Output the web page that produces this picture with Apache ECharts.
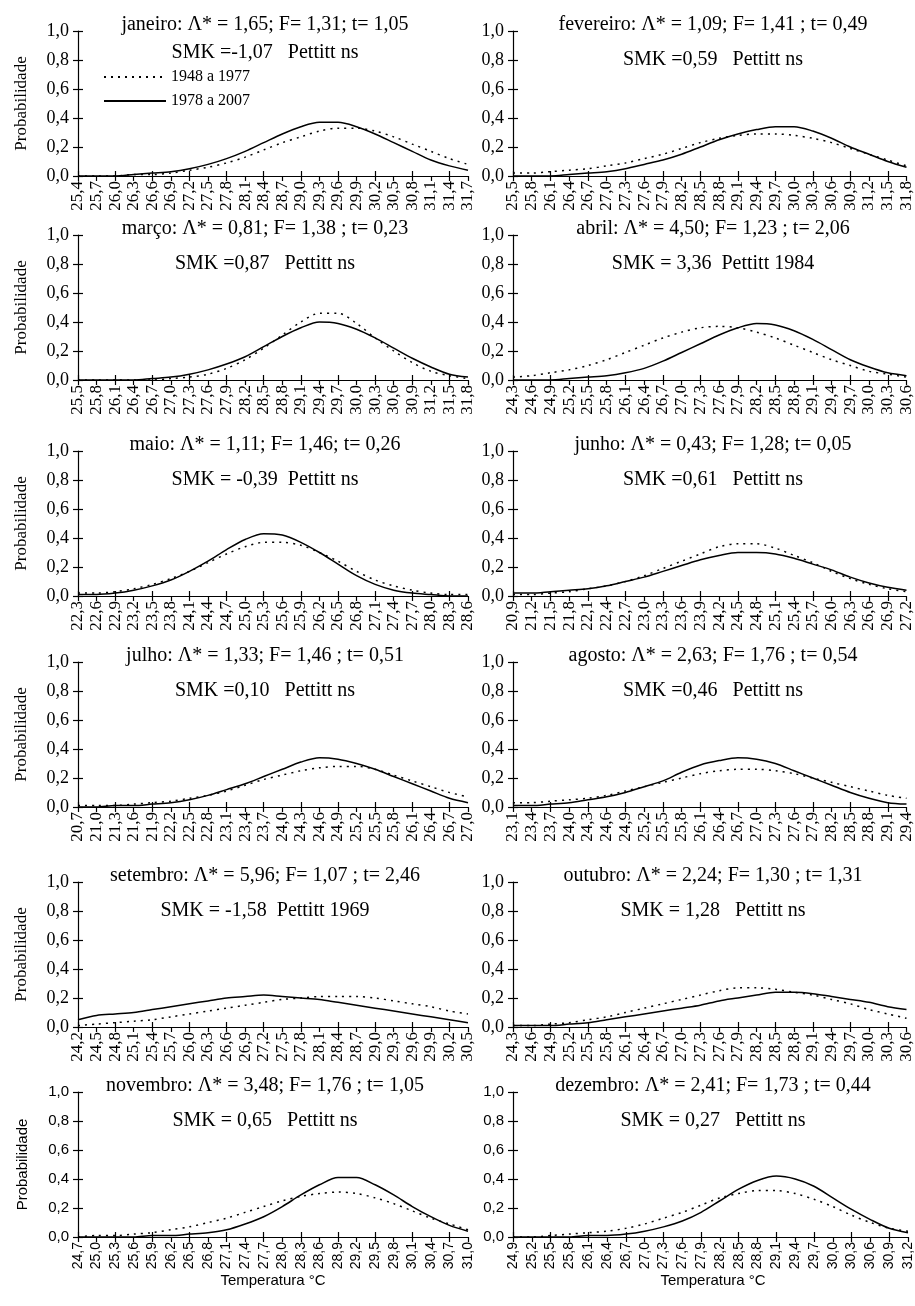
<!DOCTYPE html>
<html>
<head>
<meta charset="utf-8">
<script src="https://cdn.jsdelivr.net/npm/echarts@6/dist/echarts.min.js"></script>
<style>html,body{margin:0;padding:0;background:#fff}#chart{width:915px;height:1306px}</style>
</head>
<body>
<div id="chart"></div>
<script>
// categorias (temperatura, °C)
var catJan = ['25,4','25,7','26,0','26,3','26,6','26,9','27,2','27,5','27,8','28,1','28,4','28,7','29,0','29,3','29,6','29,9','30,2','30,5','30,8','31,1','31,4','31,7'];
var catFev = ['25,5','25,8','26,1','26,4','26,7','27,0','27,3','27,6','27,9','28,2','28,5','28,8','29,1','29,4','29,7','30,0','30,3','30,6','30,9','31,2','31,5','31,8'];
var catMar = ['25,5','25,8','26,1','26,4','26,7','27,0','27,3','27,6','27,9','28,2','28,5','28,8','29,1','29,4','29,7','30,0','30,3','30,6','30,9','31,2','31,5','31,8'];
var catAbr = ['24,3','24,6','24,9','25,2','25,5','25,8','26,1','26,4','26,7','27,0','27,3','27,6','27,9','28,2','28,5','28,8','29,1','29,4','29,7','30,0','30,3','30,6'];
var catMai = ['22,3','22,6','22,9','23,2','23,5','23,8','24,1','24,4','24,7','25,0','25,3','25,6','25,9','26,2','26,5','26,8','27,1','27,4','27,7','28,0','28,3','28,6'];
var catJun = ['20,9','21,2','21,5','21,8','22,1','22,4','22,7','23,0','23,3','23,6','23,9','24,2','24,5','24,8','25,1','25,4','25,7','26,0','26,3','26,6','26,9','27,2'];
var catJul = ['20,7','21,0','21,3','21,6','21,9','22,2','22,5','22,8','23,1','23,4','23,7','24,0','24,3','24,6','24,9','25,2','25,5','25,8','26,1','26,4','26,7','27,0'];
var catAgo = ['23,1','23,4','23,7','24,0','24,3','24,6','24,9','25,2','25,5','25,8','26,1','26,4','26,7','27,0','27,3','27,6','27,9','28,2','28,5','28,8','29,1','29,4'];
var catSet = ['24,2','24,5','24,8','25,1','25,4','25,7','26,0','26,3','26,6','26,9','27,2','27,5','27,8','28,1','28,4','28,7','29,0','29,3','29,6','29,9','30,2','30,5'];
var catOut = ['24,3','24,6','24,9','25,2','25,5','25,8','26,1','26,4','26,7','27,0','27,3','27,6','27,9','28,2','28,5','28,8','29,1','29,4','29,7','30,0','30,3','30,6'];
var catNov = ['24,7','25,0','25,3','25,6','25,9','26,2','26,5','26,8','27,1','27,4','27,7','28,0','28,3','28,6','28,9','29,2','29,5','29,8','30,1','30,4','30,7','31,0'];
var catDez = ['24,9','25,2','25,5','25,8','26,1','26,4','26,7','27,0','27,3','27,6','27,9','28,2','28,5','28,8','29,1','29,4','29,7','30,0','30,3','30,6','30,9','31,2'];

// 1948 a 1977 (pontilhado) e 1978 a 2007 (continuo)
var dotJan = [0.00,0.00,0.00,0.01,0.01,0.02,0.04,0.06,0.09,0.13,0.18,0.23,0.27,0.31,0.33,0.33,0.31,0.27,0.22,0.17,0.12,0.08];
var solJan = [0.00,0.00,0.00,0.01,0.02,0.03,0.05,0.08,0.12,0.17,0.23,0.29,0.34,0.37,0.37,0.34,0.29,0.23,0.17,0.11,0.07,0.04];
var dotFev = [0.02,0.02,0.03,0.04,0.05,0.07,0.09,0.12,0.15,0.19,0.23,0.26,0.28,0.29,0.29,0.28,0.26,0.23,0.19,0.15,0.11,0.07];
var solFev = [0.00,0.00,0.00,0.01,0.02,0.03,0.05,0.08,0.11,0.15,0.20,0.25,0.29,0.32,0.34,0.34,0.31,0.26,0.20,0.15,0.10,0.06];
var dotMar = [0.00,0.00,0.00,0.00,0.00,0.01,0.02,0.04,0.08,0.14,0.22,0.31,0.40,0.46,0.46,0.39,0.29,0.20,0.12,0.06,0.03,0.01];
var solMar = [0.00,0.00,0.00,0.00,0.01,0.02,0.04,0.07,0.11,0.16,0.23,0.30,0.36,0.40,0.39,0.35,0.29,0.22,0.15,0.09,0.04,0.02];
var dotAbr = [0.02,0.03,0.05,0.07,0.10,0.14,0.19,0.24,0.29,0.33,0.36,0.37,0.36,0.33,0.29,0.24,0.19,0.14,0.10,0.06,0.04,0.02];
var solAbr = [0.00,0.00,0.00,0.01,0.02,0.03,0.05,0.08,0.13,0.19,0.25,0.31,0.36,0.39,0.38,0.34,0.28,0.21,0.14,0.09,0.05,0.03];
var dotMai = [0.02,0.02,0.03,0.05,0.08,0.12,0.17,0.23,0.29,0.34,0.37,0.37,0.35,0.30,0.24,0.17,0.11,0.07,0.04,0.02,0.01,0.01];
var solMai = [0.01,0.01,0.02,0.04,0.07,0.11,0.17,0.24,0.32,0.39,0.43,0.42,0.37,0.30,0.22,0.14,0.08,0.04,0.02,0.01,0.00,0.00];
var dotJun = [0.01,0.01,0.02,0.03,0.05,0.07,0.10,0.14,0.19,0.24,0.29,0.34,0.36,0.36,0.33,0.28,0.23,0.17,0.12,0.08,0.05,0.03];
var solJun = [0.02,0.02,0.03,0.04,0.05,0.07,0.10,0.13,0.17,0.21,0.25,0.28,0.30,0.30,0.29,0.26,0.22,0.18,0.13,0.09,0.06,0.04];
var dotJul = [0.01,0.01,0.01,0.02,0.03,0.04,0.06,0.08,0.11,0.15,0.19,0.22,0.25,0.27,0.28,0.28,0.26,0.22,0.18,0.14,0.10,0.07];
var solJul = [0.00,0.00,0.01,0.01,0.02,0.03,0.05,0.08,0.12,0.16,0.21,0.26,0.31,0.34,0.33,0.30,0.26,0.21,0.16,0.11,0.06,0.03];
var dotAgo = [0.03,0.03,0.04,0.05,0.06,0.08,0.11,0.14,0.17,0.20,0.23,0.25,0.26,0.26,0.25,0.23,0.20,0.17,0.14,0.11,0.08,0.06];
var solAgo = [0.01,0.01,0.02,0.03,0.05,0.07,0.10,0.14,0.18,0.24,0.29,0.32,0.34,0.33,0.30,0.25,0.20,0.15,0.10,0.06,0.03,0.02];
var dotSet = [0.01,0.02,0.03,0.04,0.05,0.07,0.09,0.11,0.13,0.15,0.17,0.19,0.20,0.21,0.21,0.21,0.20,0.18,0.16,0.14,0.11,0.09];
var solSet = [0.05,0.08,0.09,0.10,0.12,0.14,0.16,0.18,0.20,0.21,0.22,0.21,0.20,0.19,0.17,0.15,0.13,0.11,0.09,0.07,0.05,0.03];
var dotOut = [0.01,0.01,0.02,0.03,0.05,0.07,0.10,0.13,0.16,0.19,0.22,0.25,0.27,0.27,0.26,0.24,0.22,0.19,0.16,0.12,0.09,0.06];
var solOut = [0.01,0.01,0.01,0.02,0.03,0.05,0.07,0.09,0.11,0.13,0.15,0.18,0.20,0.22,0.24,0.24,0.23,0.21,0.19,0.17,0.14,0.12];
var dotNov = [0.00,0.01,0.01,0.02,0.03,0.05,0.07,0.10,0.13,0.17,0.21,0.25,0.28,0.30,0.31,0.30,0.27,0.23,0.18,0.13,0.09,0.05];
var solNov = [0.00,0.00,0.00,0.00,0.01,0.01,0.02,0.03,0.05,0.09,0.14,0.21,0.29,0.36,0.41,0.41,0.36,0.29,0.21,0.14,0.08,0.04];
var dotDez = [0.00,0.00,0.01,0.02,0.03,0.04,0.06,0.09,0.13,0.17,0.22,0.27,0.30,0.32,0.32,0.30,0.26,0.21,0.15,0.10,0.06,0.04];
var solDez = [0.00,0.00,0.00,0.00,0.01,0.01,0.02,0.04,0.07,0.11,0.17,0.25,0.33,0.39,0.42,0.40,0.35,0.27,0.19,0.12,0.06,0.03];

var titulos = [
  ['janeiro: \u039b* = 1,65; F= 1,31; t= 1,05', 'SMK =-1,07   Pettitt ns'],
  ['fevereiro: \u039b* = 1,09; F= 1,41 ; t= 0,49', 'SMK =0,59   Pettitt ns'],
  ['mar\u00e7o: \u039b* = 0,81; F= 1,38 ; t= 0,23', 'SMK =0,87   Pettitt ns'],
  ['abril: \u039b* = 4,50; F= 1,23 ; t= 2,06', 'SMK = 3,36  Pettitt 1984'],
  ['maio: \u039b* = 1,11; F= 1,46; t= 0,26', 'SMK = -0,39  Pettitt ns'],
  ['junho: \u039b* = 0,43; F= 1,28; t= 0,05', 'SMK =0,61   Pettitt ns'],
  ['julho: \u039b* = 1,33; F= 1,46 ; t= 0,51', 'SMK =0,10   Pettitt ns'],
  ['agosto: \u039b* = 2,63; F= 1,76 ; t= 0,54', 'SMK =0,46   Pettitt ns'],
  ['setembro: \u039b* = 5,96; F= 1,07 ; t= 2,46', 'SMK = -1,58  Pettitt 1969'],
  ['outubro: \u039b* = 2,24; F= 1,30 ; t= 1,31', 'SMK = 1,28   Pettitt ns'],
  ['novembro: \u039b* = 3,48; F= 1,76 ; t= 1,05', 'SMK = 0,65   Pettitt ns'],
  ['dezembro: \u039b* = 2,41; F= 1,73 ; t= 0,44', 'SMK = 0,27   Pettitt ns']
];

var cats = [catJan, catFev, catMar, catAbr, catMai, catJun, catJul, catAgo, catSet, catOut, catNov, catDez];
var dots = [dotJan, dotFev, dotMar, dotAbr, dotMai, dotJun, dotJul, dotAgo, dotSet, dotOut, dotNov, dotDez];
var sols = [solJan, solFev, solMar, solAbr, solMai, solJun, solJul, solAgo, solSet, solOut, solNov, solDez];

// layout
var rowTop = [31, 235, 451, 662, 882, 1092];
var plotH = 145;
var colLeft = [78, 513];
var colW = [390, 400];
var serif = '"Liberation Serif", "Times New Roman", serif';
var sans = '"Liberation Sans", Arial, sans-serif';

var myChart = echarts.init(document.getElementById('chart'));

var option = {
  animation: false,
  backgroundColor: '#fff',
  grid: [], xAxis: [], yAxis: [], series: [], graphic: [],
  legend: {
    data: ['1948 a 1977', '1978 a 2007'],
    orient: 'vertical',
    left: 98, top: 64,
    itemWidth: 62, itemHeight: 10, itemGap: 8,
    itemStyle: {color: 'rgba(0,0,0,0)', borderWidth: 0},
    textStyle: {fontFamily: serif, fontSize: 16, color: '#000'}
  }
};

function fmtY(v) { return v.toFixed(1).replace('.', ','); }

for (var i = 0; i < 12; i++) {
  var row = Math.floor(i / 2), col = i % 2;
  var fam = row === 5 ? sans : serif;
  var fs = row === 5 ? 15 : 18;
  option.grid.push({left: colLeft[col], top: rowTop[row], width: colW[col], height: plotH});
  var ax = {color: '#000', width: 1.2};
  // eixo x com rotulos + marcas para fora
  option.xAxis.push({
    type: 'category', gridIndex: i, data: cats[i], boundaryGap: false, position: 'bottom',
    axisLine: {lineStyle: ax}, axisTick: {length: 5, lineStyle: ax},
    axisLabel: {rotate: 90, interval: 0, margin: 5, color: '#000', fontFamily: fam, fontSize: row === 5 ? 14 : 17},
    splitLine: {show: false}
  });
  // marcas para dentro
  option.xAxis.push({
    type: 'category', gridIndex: i, data: cats[i], boundaryGap: false, position: 'bottom',
    axisLine: {show: false}, axisTick: {inside: true, length: 5, lineStyle: ax},
    axisLabel: {show: false}, splitLine: {show: false}
  });
  option.yAxis.push({
    type: 'value', gridIndex: i, min: 0, max: 1, interval: 0.2, position: 'left',
    name: col === 0 ? 'Probabilidade' : '', nameLocation: 'middle', nameGap: 48,
    nameTextStyle: {fontFamily: fam, fontSize: row === 5 ? 15 : 17, color: '#000'},
    axisLine: {show: true, lineStyle: ax}, axisTick: {show: true, length: 5, lineStyle: ax},
    axisLabel: {formatter: fmtY, color: '#000', fontFamily: fam, fontSize: fs, margin: 9},
    splitLine: {show: false}
  });
  option.yAxis.push({
    type: 'value', gridIndex: i, min: 0, max: 1, interval: 0.2, position: 'left',
    axisLine: {show: false}, axisTick: {show: true, inside: true, length: 5, lineStyle: ax},
    axisLabel: {show: false}, splitLine: {show: false}
  });
  option.series.push({
    name: '1948 a 1977', type: 'line', xAxisIndex: 2 * i, yAxisIndex: 2 * i,
    data: dots[i], smooth: 0.3, symbol: 'none', color: '#000',
    lineStyle: {color: '#000', width: 1.5, type: [2, 5]}
  });
  option.series.push({
    name: '1978 a 2007', type: 'line', xAxisIndex: 2 * i, yAxisIndex: 2 * i,
    data: sols[i], smooth: 0.3, symbol: 'none', color: '#000',
    lineStyle: {color: '#000', width: 1.5, type: 'solid'}
  });
  var cx = colLeft[col] + colW[col] / 2 - (col === 0 ? 8 : 0);
  option.graphic.push({
    type: 'text', x: cx, y: rowTop[row] - 6,
    style: {text: titulos[i][0], font: '20px ' + serif, fill: '#000', textAlign: 'center', textVerticalAlign: 'middle', align: 'center', verticalAlign: 'middle'}
  });
  option.graphic.push({
    type: 'text', x: cx, y: rowTop[row] + (i === 0 ? 22 : 29),
    style: {text: titulos[i][1], font: '20px ' + serif, fill: '#000', textAlign: 'center', textVerticalAlign: 'middle', align: 'center', verticalAlign: 'middle'}
  });
  if (row === 5) {
    option.graphic.push({
      type: 'text', x: colLeft[col] + colW[col] / 2, y: rowTop[row] + plotH + 44,
      style: {text: 'Temperatura \u00b0C', font: '15px ' + sans, fill: '#000', textAlign: 'center', textVerticalAlign: 'middle', align: 'center', verticalAlign: 'middle'}
    });
  }
}

myChart.setOption(option);
</script>
</body>
</html>
